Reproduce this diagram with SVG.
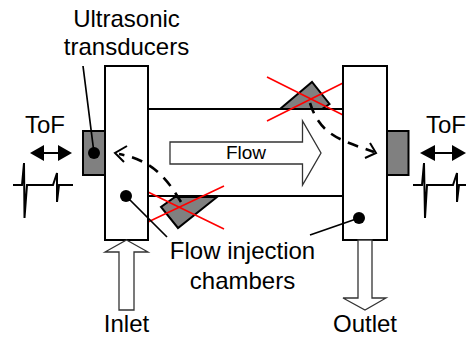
<svg xmlns="http://www.w3.org/2000/svg" width="466" height="340" viewBox="0 0 466 340">
<style>
text{font-family:"Liberation Sans",Arial,sans-serif;font-size:24px;fill:#000;text-anchor:middle}
.box{fill:#fff;stroke:#000;stroke-width:2}
.arrow{fill:#fff;stroke:#333;stroke-width:1.3}
.gray{fill:#808080;stroke:#000;stroke-width:2}
.line{fill:none;stroke:#000;stroke-width:2}
.lead{fill:none;stroke:#000;stroke-width:1.7}
.red{fill:none;stroke:#f00;stroke-width:1.6}
.dash{fill:none;stroke:#000;stroke-width:2.6;stroke-dasharray:11 8}
.head{fill:none;stroke:#000;stroke-width:2}
</style>
<g id="channel"><path class="line" d="M148 109H343M148 196H343"/></g>
<g id="chamber-top"><path class="gray" d="M280 109L312 82L329.500 104L322 109Z"/><path class="red" d="M267 77L343 115M267 121L343 83"/></g>
<g id="chamber-bottom"><path class="gray" d="M217 197L178 228L161 207L175 197Z"/><path class="red" d="M148 192L224 229M148 222L224 186"/></g>
<g id="transducer-left"><rect class="gray" x="83" y="131" width="22" height="44"/></g>
<g id="transducer-right"><rect class="gray" x="387" y="131" width="21.500" height="44"/></g>
<g id="box-left"><rect class="box" x="105" y="66" width="43" height="174"/><circle cx="126" cy="196" r="6"/></g>
<g id="box-right"><rect class="box" x="343" y="66" width="44" height="174"/><circle cx="359" cy="218" r="6"/></g>
<circle id="dot-transducer" cx="94" cy="153" r="6"/>
<g id="flow"><path class="arrow" d="M170 142H302.500V121L321 153L302.500 185V164H170Z"/><text x="246" y="159" style="font-size:19px">Flow</text></g>
<g id="inlet"><path class="arrow" d="M126.500 240L148 252H134V310H119V252H105Z"/><text x="126.500" y="332">Inlet</text></g>
<g id="outlet"><path class="arrow" d="M358 240H372V298H386L365 310L343 298H358Z"/><text x="365" y="332">Outlet</text></g>
<g id="tof-left"><text x="45" y="133">ToF</text><path class="line" d="M40 153H62"/><path d="M30 153L44 145V161ZM72 153L58 145V161Z"/><path class="line" d="M13 185H22L24 163L24.500 218L27 185H53L57 173V202L59 185H73"/></g>
<g id="tof-right"><text x="446" y="133">ToF</text><path class="line" d="M435 153H457"/><path d="M420 153L435 145V161ZM466 153L452 145V161Z"/><path class="line" d="M413 185H422L424 163L425 218L427 185H453L457 173V202L459 185H466"/></g>
<g id="label-transducers"><text x="126.500" y="27">Ultrasonic</text><text x="126.500" y="55">transducers</text></g>
<g id="label-chambers"><text x="242.500" y="259">Flow injection</text><text x="242.500" y="289">chambers</text></g>
<g id="connectors">
<path class="lead" d="M83 66L94 153M126 196L167 237M359 218L310 235"/>
<path class="dash" d="M181 202C165 175 150 160 119 154"/>
<path class="head" d="M127 146L115 153L124 162"/>
<path class="dash" d="M310 103C320 135 340 140 374 152"/>
<path class="head" d="M370 143L376 153L365 158"/>
</g>
</svg>
